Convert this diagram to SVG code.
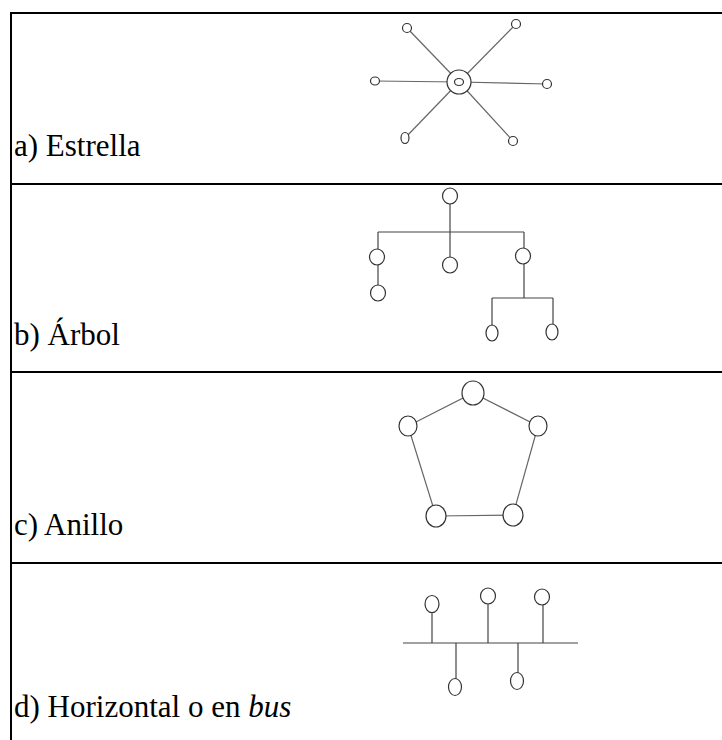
<svg xmlns="http://www.w3.org/2000/svg" width="722" height="740" viewBox="0 0 722 740">
  <style>
    .rule { stroke: #000; stroke-width: 2; fill: none; }
    .edge { stroke: #444; stroke-width: 1.2; fill: none; }
    .edge.light { stroke: #666; }
    .node { stroke: #333; stroke-width: 1.2; fill: #fff; }
    .label { font-family: "Liberation Serif", "Times New Roman", serif; font-size: 31px; fill: #000; }
  </style>
  <rect width="722" height="740" fill="#fff"/>

  <!-- table rules -->
  <g id="table">
    <line class="rule" x1="11" y1="13" x2="722" y2="13"/>
    <line class="rule" x1="11" y1="12" x2="11" y2="740"/>
    <line class="rule" x1="11" y1="184" x2="722" y2="184"/>
    <line class="rule" x1="11" y1="372" x2="722" y2="372"/>
    <line class="rule" x1="11" y1="563" x2="722" y2="563"/>
  </g>

  <!-- captions -->
  <g id="captions">
    <text class="label" x="14" y="156">a) Estrella</text>
    <text class="label" x="14" y="345">b) Árbol</text>
    <text class="label" x="14" y="535">c) Anillo</text>
    <text class="label" x="14" y="717">d) Horizontal o en <tspan font-style="italic">bus</tspan></text>
  </g>

  <!-- connectors -->
  <g id="connectors">
    <!-- star -->
    <line class="edge light" x1="459" y1="82" x2="407" y2="28"/>
    <line class="edge light" x1="459" y1="82" x2="516" y2="24"/>
    <line class="edge light" x1="459" y1="82" x2="375" y2="81"/>
    <line class="edge light" x1="459" y1="82" x2="547" y2="84"/>
    <line class="edge light" x1="459" y1="82" x2="405" y2="138"/>
    <line class="edge light" x1="459" y1="82" x2="513" y2="141"/>
    <!-- tree -->
    <line class="edge" x1="450" y1="196" x2="450" y2="265"/>
    <line class="edge" x1="378" y1="232" x2="524" y2="232"/>
    <line class="edge" x1="378" y1="232" x2="378" y2="293"/>
    <line class="edge" x1="524" y1="232" x2="524" y2="298"/>
    <line class="edge" x1="492" y1="298" x2="553" y2="298"/>
    <line class="edge" x1="492" y1="298" x2="492" y2="333"/>
    <line class="edge" x1="553" y1="298" x2="553" y2="332"/>
    <!-- ring -->
    <polygon class="edge light" points="473,393 538,426 513,515 436,516 408,426"/>
    <!-- bus -->
    <line class="edge" x1="403" y1="643" x2="578" y2="643"/>
    <line class="edge" x1="432" y1="603" x2="432" y2="643"/>
    <line class="edge" x1="488" y1="596" x2="488" y2="643"/>
    <line class="edge" x1="543" y1="597" x2="543" y2="643"/>
    <line class="edge" x1="456" y1="643" x2="456" y2="687"/>
    <line class="edge" x1="518" y1="643" x2="518" y2="681"/>
  </g>

  <!-- star nodes -->
  <g id="star-hub">
    <circle class="node" cx="459" cy="82" r="12"/>
    <ellipse class="node" cx="459" cy="82" rx="4.5" ry="3.5"/>
  </g>
  <g id="star-n1"><ellipse class="node" cx="407" cy="28" rx="4.5" ry="4.5"/></g>
  <g id="star-n2"><ellipse class="node" cx="516" cy="24" rx="4.5" ry="4.5"/></g>
  <g id="star-n3"><ellipse class="node" cx="375" cy="81" rx="4.5" ry="4"/></g>
  <g id="star-n4"><ellipse class="node" cx="547" cy="84" rx="4.5" ry="4.5"/></g>
  <g id="star-n5"><ellipse class="node" cx="405" cy="138" rx="4" ry="5.5"/></g>
  <g id="star-n6"><ellipse class="node" cx="513" cy="141" rx="4.5" ry="4.5"/></g>

  <!-- tree nodes -->
  <g id="tree-root"><ellipse class="node" cx="450" cy="196" rx="7.5" ry="8"/></g>
  <g id="tree-l1"><ellipse class="node" cx="377" cy="257" rx="7.5" ry="8"/></g>
  <g id="tree-l2"><ellipse class="node" cx="378" cy="293" rx="7.5" ry="8"/></g>
  <g id="tree-m1"><ellipse class="node" cx="450" cy="265" rx="7.5" ry="8"/></g>
  <g id="tree-r1"><ellipse class="node" cx="523" cy="256" rx="7.5" ry="8"/></g>
  <g id="tree-r2"><ellipse class="node" cx="492" cy="333" rx="6" ry="8"/></g>
  <g id="tree-r3"><ellipse class="node" cx="552" cy="332" rx="6" ry="8"/></g>

  <!-- ring nodes -->
  <g id="ring-top"><ellipse class="node" cx="473" cy="393" rx="11" ry="12"/></g>
  <g id="ring-right"><ellipse class="node" cx="538" cy="426" rx="9" ry="10"/></g>
  <g id="ring-bottom-right"><ellipse class="node" cx="513" cy="515" rx="10" ry="11"/></g>
  <g id="ring-bottom-left"><ellipse class="node" cx="436" cy="516" rx="10" ry="11"/></g>
  <g id="ring-left"><ellipse class="node" cx="408" cy="426" rx="9" ry="10"/></g>

  <!-- bus nodes -->
  <g id="bus-u1"><ellipse class="node" cx="432" cy="604" rx="7" ry="8.5"/></g>
  <g id="bus-u2"><ellipse class="node" cx="488" cy="596" rx="7.5" ry="8"/></g>
  <g id="bus-u3"><ellipse class="node" cx="542" cy="597" rx="7.5" ry="8"/></g>
  <g id="bus-d1"><ellipse class="node" cx="455" cy="687" rx="6.5" ry="8.5"/></g>
  <g id="bus-d2"><ellipse class="node" cx="517" cy="681" rx="6.5" ry="8.5"/></g>
</svg>
